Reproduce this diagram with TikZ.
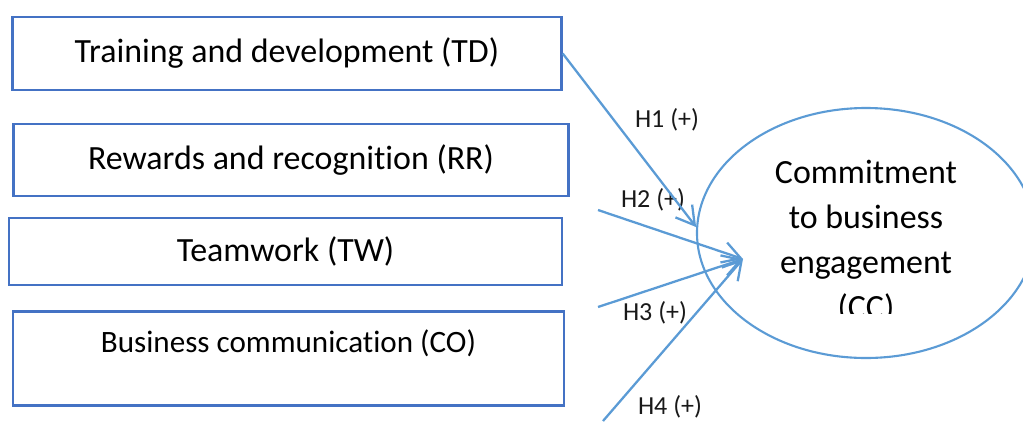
\documentclass[tikz,border=0pt]{standalone}
\usepackage{fontspec}
\setmainfont{Carlito}[Ligatures=NoCommon]
\usepackage{tikz}
\usetikzlibrary{positioning, calc, arrows.meta, shapes.geometric}
\definecolor{boxblue}{RGB}{68, 114, 196}
\definecolor{linkblue}{RGB}{91, 155, 213}

\begin{document}
\begin{tikzpicture}[every node/.style={font=\fontsize{19.3}{25.6}\selectfont}]
    \tikzstyle{factor} = [draw=boxblue, rectangle, line width=1.4pt, text centered, inner sep=0pt]
    \tikzstyle{outcome} = [draw=linkblue, ellipse, line width=1.2pt, minimum width=6.76cm, minimum height=5cm, inner sep=0pt]
    \tikzstyle{arrow} = [line width=1.3pt, -{Straight Barb[length=3.6mm, width=4.2mm]}, draw=linkblue]
    \tikzstyle{hyp} = [font=\fontsize{14.8}{17}\selectfont, text=black!90]

    \path[use as bounding box, clip] (0,0) rectangle (20.46,-8.42);

    % Nodes
    \node (td) [factor, minimum width=10.98cm, minimum height=1.46cm] at (5.74,-1.07) {Training and development (TD)};
    \node (rr) [factor, below of=td, node distance=2.13cm, xshift=0.08cm, minimum width=11.1cm, minimum height=1.44cm] {Rewards and recognition (RR)};
    \node (tw) [factor, below of=rr, node distance=1.83cm, xshift=-0.11cm, minimum width=11.06cm, minimum height=1.34cm] {Teamwork (TW)};
    \node (co) [factor, below of=tw, node distance=2.14cm, xshift=0.06cm, minimum width=11.02cm, minimum height=1.88cm, text depth=0.68cm, font=\fontsize{17.7}{23}\selectfont] {Business communication (CO)};
    \node (cc) [outcome] at (17.32,-4.66) {};
    \begin{scope}
        \clip (14,-2) rectangle (20.46,-6.26);
        \node (cctext) [align=center] at ($(cc.center)+(0,-0.17)$) {Commitment\\to business\\engagement\\(CC)};
    \end{scope}

    % Hypothesis labels
    \node (h1) [hyp] at (13.34,-2.40) {H1 (+)};
    \node (h2) [hyp] at (13.06,-4.00) {H2 (+)};
    \node (h3) [hyp] at (13.10,-6.26) {H3 (+)};
    \node (h4) [hyp] at (13.40,-8.14) {H4 (+)};

    % Arrows
    \coordinate (hub) at (14.86,-5.18);
    \coordinate (rrend) at (11.96,-4.20);
    \coordinate (twend) at (11.96,-6.14);
    \coordinate (coend) at (12.06,-8.42);
    \draw [arrow] (td.east) -- (cc.178);
    \draw [arrow] (rrend) -- (hub);
    \draw [arrow] (twend) -- (hub);
    \draw [arrow] (coend) -- (hub);
\end{tikzpicture}
\end{document}
